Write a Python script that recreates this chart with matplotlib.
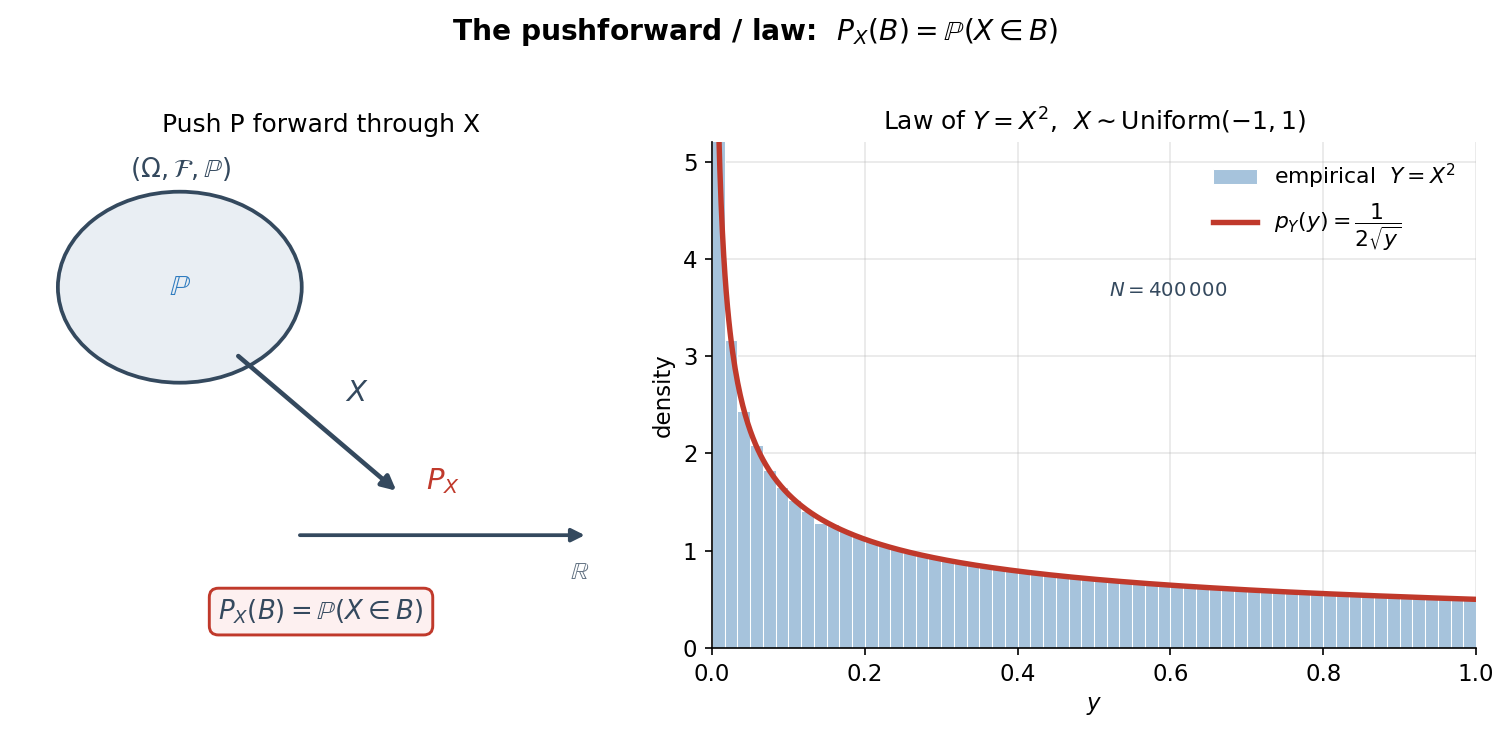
import numpy as np
import matplotlib.pyplot as plt
from matplotlib.patches import Ellipse

alturas = [7.75, 3.17, 2.44, 2.09, 1.83, 1.65, 1.52, 1.41, 1.28, 1.27,
           1.20, 1.14, 1.10, 1.05, 1.02, 0.98, 0.95, 0.93, 0.90, 0.88,
           0.86, 0.84, 0.82, 0.80, 0.78, 0.77, 0.75, 0.74, 0.73, 0.71,
           0.70, 0.69, 0.68, 0.67, 0.66, 0.65, 0.64, 0.63, 0.63, 0.62,
           0.61, 0.60, 0.60, 0.59, 0.58, 0.58, 0.57, 0.56, 0.56, 0.55,
           0.55, 0.54, 0.54, 0.53, 0.53, 0.52, 0.52, 0.51, 0.51, 0.505]
n_bins = 60
N = 400000

azul = '#a6c3dc'
rojo = '#c0392b'
oscuro = '#34495e'

fig = plt.figure(figsize=(1510 / 150, 732 / 150), dpi=150)
fig.suptitle(r'The pushforward / law:  $P_X(B) = \mathbb{P}(X \in B)$',
             fontsize=13.5, fontweight='bold', y=0.978)

# panel izquierdo: diagrama
ax1 = fig.add_axes([0.0066, 0.1243, 0.412, 0.6844])
ax1.set_xlim(0, 10)
ax1.set_ylim(0, 8)
ax1.axis('off')
ax1.set_title('Push P forward through X', fontsize=12, pad=4)

ax1.add_patch(Ellipse((2.73, 5.65), 3.92, 3.05, facecolor='#e9eef3',
                      edgecolor=oscuro, lw=1.8))
ax1.text(2.73, 5.65, r'$\mathbb{P}$', color='#2e7bbf', fontsize=14,
         ha='center', va='center')
ax1.text(2.75, 7.54, r'$(\Omega, \mathcal{F}, \mathbb{P})$', color=oscuro,
         fontsize=12.5, ha='center', va='center')

ax1.annotate('', xy=(6.21, 2.40), xytext=(3.67, 4.55),
             arrowprops=dict(arrowstyle='-|>', color=oscuro, lw=2.2,
                             mutation_scale=14, shrinkA=0, shrinkB=0))
ax1.text(5.58, 3.96, r'$X$', color=oscuro, fontsize=14,
         ha='center', va='center')
ax1.text(6.96, 2.56, r'$P_X$', color=rojo, fontsize=14,
         ha='center', va='center')

ax1.annotate('', xy=(9.24, 1.69), xytext=(4.66, 1.69),
             arrowprops=dict(arrowstyle='-|>', color=oscuro, lw=1.8,
                             mutation_scale=13, shrinkA=0, shrinkB=0))
ax1.text(9.16, 1.10, r'$\mathbb{R}$', color='#5d6d7e', fontsize=12,
         ha='center', va='center')

ax1.text(5.0, 0.47, r'$P_X(B) = \mathbb{P}(X \in B)$', color=oscuro,
         fontsize=12.5, ha='center', va='center',
         bbox=dict(boxstyle='round,pad=0.35', facecolor='#fdf0f0',
                   edgecolor=rojo, lw=1.4))

# panel derecho: histograma y densidad
ax2 = fig.add_axes([0.4715, 0.1148, 0.506, 0.691])
bordes = np.linspace(0, 1, n_bins + 1)
barras = ax2.bar(bordes[:-1], alturas, width=1 / n_bins, align='edge',
                 color=azul, edgecolor='white', lw=0.5,
                 label=r'empirical  $Y=X^2$', zorder=2)

y = np.linspace(0.002, 1, 600)
linea, = ax2.plot(y, 1 / (2 * np.sqrt(y)), color=rojo, lw=2.6,
                  label=r'$p_Y(y)=\dfrac{1}{2\sqrt{y}}$', zorder=3)

ax2.set_xlim(0, 1)
ax2.set_ylim(0, 5.2)
ax2.tick_params(labelsize=11)
ax2.set_xlabel(r'$y$', fontsize=11)
ax2.set_ylabel('density', fontsize=11)
ax2.set_title(r'Law of $Y=X^2$,  $X\sim\mathrm{Uniform}(-1,1)$', fontsize=12)
ax2.grid(True, alpha=0.3, zorder=0)
ax2.set_axisbelow(True)
ax2.spines['top'].set_visible(False)
ax2.spines['right'].set_visible(False)
ax2.text(0.52, 3.68, r'$N = 400\,000$', color=oscuro, fontsize=9.5,
         ha='left', va='center')
ax2.legend(handles=[barras, linea], loc='upper right', frameon=False,
           fontsize=10.5)

fig.savefig('out.png', dpi=150)
